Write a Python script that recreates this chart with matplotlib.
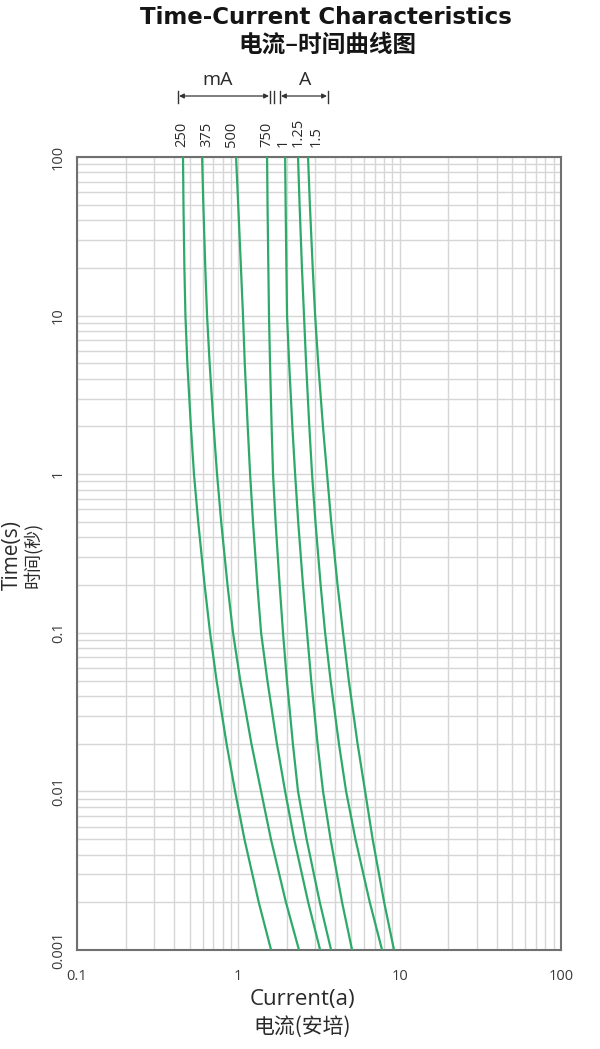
import matplotlib
matplotlib.use('Agg')
import matplotlib.pyplot as plt
from matplotlib.ticker import LogLocator, NullFormatter, FixedLocator, FixedFormatter
import numpy as np

# ---------------- data ----------------
times = [100, 50, 20, 10, 5, 2, 1, 0.5, 0.2, 0.1, 0.05, 0.02, 0.01, 0.005, 0.002, 0.001]
curve_labels = ['250', '375', '500', '750', '1', '1.25', '1.5']
i_250mA = [0.454, 0.457, 0.463, 0.470, 0.483, 0.508, 0.531, 0.564, 0.618, 0.668,
           0.733, 0.845, 0.955, 1.091, 1.338, 1.596]
i_375mA = [0.596, 0.607, 0.624, 0.640, 0.664, 0.703, 0.738, 0.783, 0.857, 0.927,
           1.028, 1.205, 1.384, 1.592, 1.972, 2.377]
i_500mA = [0.968, 0.998, 1.038, 1.069, 1.096, 1.143, 1.183, 1.233, 1.312, 1.384,
           1.514, 1.734, 1.950, 2.218, 2.710, 3.214]
i_750mA = [1.507, 1.517, 1.535, 1.549, 1.572, 1.608, 1.641, 1.702, 1.803, 1.892,
           2.000, 2.178, 2.344, 2.649, 3.198, 3.758]
i_1A = [1.950, 1.964, 1.986, 2.004, 2.065, 2.162, 2.249, 2.350, 2.516, 2.667,
        2.829, 3.097, 3.350, 3.730, 4.395, 5.070]
i_1_25A = [2.344, 2.397, 2.479, 2.553, 2.630, 2.754, 2.864, 3.006, 3.237, 3.451,
           3.731, 4.202, 4.656, 5.320, 6.526, 7.780]
i_1_5A = [2.704, 2.776, 2.891, 2.992, 3.127, 3.346, 3.548, 3.764, 4.121, 4.457,
          4.837, 5.483, 6.109, 6.799, 8.012, 9.226]
currents = [i_250mA, i_375mA, i_500mA, i_750mA, i_1A, i_1_25A, i_1_5A]

x_ticks = [0.1, 1, 10, 100]
x_tick_labels = ['0.1', '1', '10', '100']
y_ticks = [0.001, 0.01, 0.1, 1, 10, 100]
y_tick_labels = ['0.001', '0.01', '0.1', '1', '10', '100']

# ---------------- figure ----------------
W, H = 600, 1049
fig = plt.figure(figsize=(W / 100, H / 100), dpi=100)
plt.rcParams['font.family'] = ['Open Sans', 'Noto Sans CJK SC', 'DejaVu Sans']
CJK = ['Noto Sans CJK SC', 'DejaVu Sans']

L, R, T, B = 77, 561, 157, 950
ax = fig.add_axes([L / W, 1 - B / H, (R - L) / W, (B - T) / H])
ax.set_xscale('log')
ax.set_yscale('log')
ax.set_xlim(0.1, 100)
ax.set_ylim(0.001, 100)

for cur in currents:
    ax.plot(cur, times, color='#2fa96a', lw=1.6, zorder=3)

ax.xaxis.set_major_locator(FixedLocator(x_ticks))
ax.xaxis.set_major_formatter(FixedFormatter(x_tick_labels))
ax.xaxis.set_minor_locator(LogLocator(base=10, subs=np.arange(2, 10)))
ax.xaxis.set_minor_formatter(NullFormatter())
ax.yaxis.set_major_locator(FixedLocator(y_ticks))
ax.yaxis.set_major_formatter(FixedFormatter(y_tick_labels))
ax.yaxis.set_minor_locator(LogLocator(base=10, subs=np.arange(2, 10)))
ax.yaxis.set_minor_formatter(NullFormatter())

ax.grid(which='both', color='#d6d6d6', lw=1.0)
ax.set_axisbelow(True)
ax.tick_params(which='both', length=0)
ax.tick_params(axis='x', pad=14, labelsize=10.5, labelcolor='#3a3a3a')
ax.tick_params(axis='y', pad=8, labelsize=10.5, labelcolor='#3a3a3a')
for lab in ax.get_yticklabels():
    lab.set_rotation(90)
    lab.set_va('center')
    lab.set_ha('right')
for s in ax.spines.values():
    s.set_color('#707070')
    s.set_linewidth(1.5)


def fx(x):
    return x / W


def fy(y):
    return 1 - y / H


# titles
fig.text(fx(326), fy(18), 'Time-Current Characteristics', ha='center', va='center',
         fontsize=16.5, fontweight='bold', color='#151515', family=['DejaVu Sans'])
fig.text(fx(327), fy(45), '电流–时间曲线图', ha='center', va='center',
         fontsize=17, fontweight='bold', color='#151515', family=CJK)

# axis labels
fig.text(fx(302), fy(1000), 'Current(a)', ha='center', va='center',
         fontsize=16, color='#2a2a2a')
fig.text(fx(302), fy(1027), '电流(安培)', ha='center', va='center',
         fontsize=15, color='#2a2a2a', family=CJK)
fig.text(fx(12), fy(555), 'Time(s)', ha='center', va='center',
         fontsize=15, color='#2a2a2a', rotation=90)
fig.text(fx(33), fy(555), '时间(秒)', ha='center', va='center',
         fontsize=13, color='#2a2a2a', rotation=90, family=CJK)

# rating labels above curves
label_x = [182, 207, 231, 267, 283, 298, 316]
for lx, lab in zip(label_x, curve_labels):
    fig.text(fx(lx), fy(147), lab, rotation=90, ha='center', va='bottom',
             fontsize=10.5, color='#2a2a2a')

# unit brackets
fig.text(fx(218), fy(80), 'mA', ha='center', va='center', fontsize=14, color='#2a2a2a')
fig.text(fx(305), fy(80), 'A', ha='center', va='center', fontsize=14, color='#2a2a2a')
ybr = H - 96
arrow_kw = dict(arrowstyle='<|-|>', mutation_scale=7, color='#333333', lw=0.9,
                shrinkA=0, shrinkB=0)
ax.annotate('', xy=(179, ybr), xytext=(269, ybr), xycoords='figure pixels',
            textcoords='figure pixels', arrowprops=arrow_kw, annotation_clip=False)
ax.annotate('', xy=(281, ybr), xytext=(327, ybr), xycoords='figure pixels',
            textcoords='figure pixels', arrowprops=arrow_kw, annotation_clip=False)
for bx in [178, 270, 274, 280, 328]:
    fig.add_artist(plt.Line2D([bx / W, bx / W], [(ybr - 7) / H, (ybr + 5) / H],
                              color='#333333', lw=1.0))

fig.savefig('out.png', dpi=100)
